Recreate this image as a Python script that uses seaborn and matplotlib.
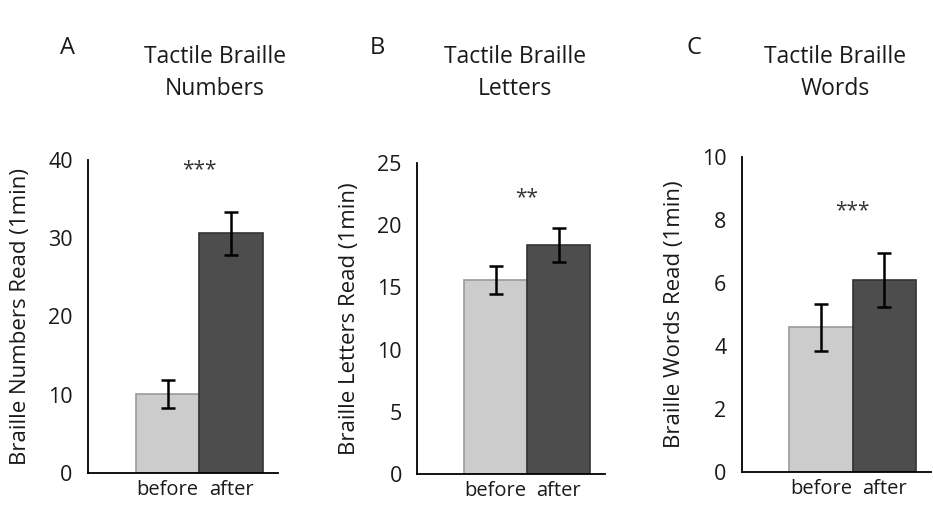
import pandas as pd
import matplotlib.pyplot as plt
import seaborn as sns

# values
conditions = ["before", "after"]
numbers_mean = [10.1, 30.6]
numbers_err = [1.8, 2.8]
letters_mean = [15.6, 18.4]
letters_err = [1.1, 1.4]
words_mean = [4.6, 6.1]
words_err = [0.75, 0.85]

panels = [
    ("A", "Tactile Braille\nNumbers", "Braille Numbers Read (1min)", numbers_mean, numbers_err, [0, 10, 20, 30, 40], "***"),
    ("B", "Tactile Braille\nLetters", "Braille Letters Read (1min)", letters_mean, letters_err, [0, 5, 10, 15, 20, 25], "**"),
    ("C", "Tactile Braille\nWords", "Braille Words Read (1min)", words_mean, words_err, [0, 2, 4, 6, 8, 10], "***"),
]
star_y = [38.8, 22.2, 8.3]

sns.set_style("white")
plt.rcParams['font.family'] = ['Open Sans', 'DejaVu Sans']
ink = "#1a1a1a"

fig = plt.figure(figsize=(9.33, 5.05), dpi=100)
boxes = [
    [0.0943, 0.0634, 0.204, 0.620],
    [0.447, 0.0614, 0.2015, 0.616],
    [0.795, 0.065, 0.203, 0.624],
]
title_x = [0.230, 0.552, 0.895]
letter_x = [0.072, 0.405, 0.744]
colors = {"before": "#cccccc", "after": "#4d4d4d"}
edges = ["#9a9a9a", "#333333"]

for i, (letter, title, ylabel, means, errs, ticks, stars) in enumerate(panels):
    ax = fig.add_axes(boxes[i])
    df = pd.DataFrame({"cond": conditions, "val": means})
    sns.barplot(data=df, x="cond", y="val", hue="cond", palette=colors,
                width=1.0, dodge=False, legend=False, ax=ax, errorbar=None)
    for p, ec in zip(ax.patches, edges):
        p.set_edgecolor(ec)
        p.set_linewidth(1.2)
    ax.errorbar(x=[0, 1], y=means, yerr=errs, fmt="none", ecolor="black",
                elinewidth=1.8, capsize=5, capthick=1.8)
    ax.set_xlim(-1.25, 1.74)
    ax.set_ylim(0, ticks[-1])
    ax.set_yticks(ticks)
    ax.tick_params(axis="y", labelsize=15.5, length=0, pad=11, labelcolor=ink)
    ax.tick_params(axis="x", labelsize=14.5, length=0, pad=5, labelcolor=ink)
    ax.set_xlabel("")
    ax.set_ylabel(ylabel, fontsize=16, labelpad=12, color=ink)
    sns.despine(ax=ax)
    for s in ["left", "bottom"]:
        ax.spines[s].set_color("black")
        ax.spines[s].set_linewidth(1.3)
    ax.text(0.5, star_y[i], stars, ha="center", va="center", fontsize=15, color="#333333")
    fig.text(title_x[i], 0.855, title, ha="center", va="center",
             fontsize=16.5, linespacing=1.45, color=ink)
    fig.text(letter_x[i], 0.905, letter, ha="center", va="center", fontsize=17, color=ink)

fig.savefig("out.png", dpi=100)
